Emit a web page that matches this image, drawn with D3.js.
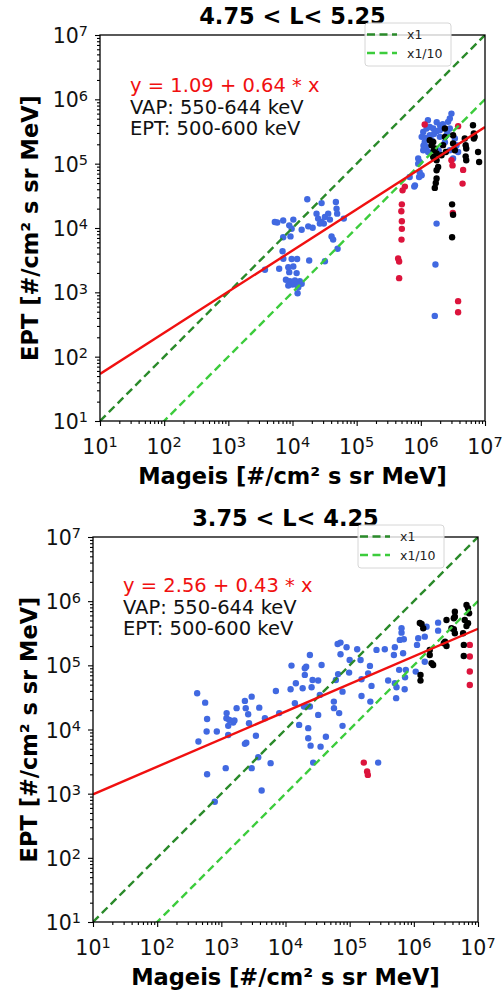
<!DOCTYPE html>
<html>
<head>
<meta charset="utf-8">
<script src="https://cdn.jsdelivr.net/npm/d3@7"></script>
<style>
  body { margin: 0; background: #fff; }
  text { font-family: "DejaVu Sans", sans-serif; }
</style>
</head>
<body>
<svg id="chart" width="504" height="993"></svg>
<script>
const titles = ["4.75 < L< 5.25", "3.75 < L< 4.25"];
const fitText = ["y = 1.09 + 0.64 * x", "y = 2.56 + 0.43 * x"];
const fitIntercept = [1.09, 2.56];
const fitSlope = [0.64, 0.43];
const infoText = ["VAP: 550-644 keV", "EPT: 500-600 keV"];
const xLabel = "Mageis [#/cm² s sr MeV]";
const yLabel = "EPT [#/cm² s sr MeV]";
const tickExponents = [1, 2, 3, 4, 5, 6, 7];
const legendLabels = ["x1", "x1/10"];
const refFactors = [1, 0.1];

// [mageis, ept] pairs, 4.75 < L < 5.25
const topBlue = [
  [1.7e4,2.8e4],[2.84e4,2.44e4],[4.74e4,2.53e4],[5.78e3,1.22e4],[7.16e3,1.31e4],[1.03e4,1.35e4],
  [8.9e3,1.1e4],[9.7e3,9.75e3],[1.39e4,9.4e3],[1.76e4,1.06e4],[2.06e4,1.01e4],[2.37e4,1.67e4],
  [2.51e4,1.4e4],[2.84e4,1.24e4],[3.2e4,1.48e4],[3.6e4,1.67e4],[3.83e4,1.35e4],[4.86e4,2.0e4],
  [4.97e4,1.67e4],[6.3e4,1.4e4],[3.08e4,1.17e4],[2.67e4,1.17e4],[7.16e3,7.2e3],[9.3e3,7.4e3],
  [4.06e4,7.4e3],[4.3e4,6.6e3],[5.04e4,4.76e3],[7.0e3,4.36e3],[7.2e3,3.33e3],[9.7e3,3.3e3],
  [1.18e4,3.3e3],[1.82e4,3.13e3],[3.2e4,3.05e3],[3.72e3,2.24e3],[6.2e3,2.32e3],[8.6e3,2.46e3],
  [1.03e4,2.52e3],[8.9e3,2.06e3],[1.16e4,1.99e3],[7.9e3,1.57e3],[9.1e3,1.49e3],[1.09e4,1.53e3],
  [1.3e4,1.49e3],[1.0e4,1.32e3],[1.16e4,1.31e3],[8.6e3,1.28e3],[1.23e4,1.2e3],[1.39e4,1.36e3],
  [1.2e4,9.7e2],[5.3e3,1.24e4],
  [3.0e6,6.0e5],[2.83e6,5.05e5],[2.66e6,4.47e5],[1.09e6,3.12e5],[1.23e6,3.52e5],[1.38e6,3.73e5],
  [1.56e6,3.52e5],[1.76e6,3.2e5],[1.98e6,3.31e5],[1.03e6,2.61e5],[1.15e6,2.18e5],[1.23e6,1.82e5],
  [1.09e6,1.62e5],[1.3e6,1.52e5],[1.38e6,2.77e5],[1.98e6,2.61e5],[2.51e6,2.77e5],[2.83e6,3.52e5],
  [3.39e6,2.46e5],[3.6e6,1.94e5],[3.81e6,1.52e5],[3.18e6,1.2e5],[9.1e5,1.2e5],[9.6e5,7.4e4],
  [1.03e6,6.6e4],[6.7e5,6.2e4],[8.1e5,4.6e4],[9.1e5,1.0e5],[9.6e5,1.06e5],[9.4e5,6.2e4],
  [7.9e5,4.4e4],[1.76e6,1.17e4],[1.69e6,2.71e3],[1.65e6,4.3e2],[1.48e6,2.31e5],[1.77e6,4.4e5],
  [2.2e6,4.1e5],[2.37e6,2.15e5],[2.83e6,1.62e5],[1.29e6,4.74e5],[1.2e6,2.5e5],[1.6e6,2.9e5],
  [2.0e6,3.9e5],[1.1e6,1.9e5],[2.6e6,3.0e5],[1.9e6,1.6e5]
];
const topRed = [
  [1.15e6,4.07e5],[3.81e6,3.83e5],[3.0e6,1.13e5],[3.12e6,9.4e4],[4.56e6,8.0e4],[4.47e6,4.9e4],
  [5.64e5,4.4e4],[5.19e5,3.85e4],[5.06e5,2.33e4],[4.97e5,1.82e4],[5.06e5,1.27e4],[5.06e5,9.7e3],
  [5.0e5,6.6e3],[4.43e5,3.36e3],[4.59e5,3.02e3],[4.59e5,1.66e3],[3.81e6,7.3e2],[3.81e6,4.9e2],
  [3.15e6,1.72e4]
];
const topBlack = [
  [6.5e6,3.96e5],[6.7e6,2.94e5],[6.7e6,2.46e5],[5.0e6,1.94e5],[5.1e6,1.72e5],[5.0e6,1.3e5],
  [5.1e6,1.13e5],[7.8e6,1.52e5],[8.1e6,1.06e5],[3.07e6,2.33e4],[3.18e6,1.61e4],[3.07e6,7.2e3],
  [1.76e6,7.9e4],[1.76e6,5.9e4],[1.71e6,5.0e4],[1.65e6,4.2e4],[1.56e6,2.18e5],[1.47e6,1.94e5],
  [1.65e6,1.72e5],[1.76e6,1.44e5],[1.56e6,1.27e5],[1.76e6,1.13e5],[1.86e6,8.9e4],[2.37e6,3.52e5],
  [2.37e6,2.61e5],[2.22e6,1.94e5],[2.45e6,1.52e5],[2.1e6,1.35e5],[3.18e6,2.77e5],[3.18e6,2.06e5],
  [3.39e6,1.62e5],[4.84e6,2.46e5],[6.9e6,2.61e5],[1.38e6,2.31e5],[1.59e6,1.62e5]
];

// [mageis, ept] pairs, 3.75 < L < 4.25
const bottomBlue = [
  [4.2e2,3.67e4],[5.6e2,2.62e4],[6.0e2,1.46e4],[5.9e2,9.3e3],[4.4e2,6.5e3],[8.5e2,9.3e3],
  [6.0e2,2.01e3],[7.9e2,7.5e2],[1.17e3,2.5e3],[1.21e3,1.8e4],[1.2e3,1.5e4],[1.33e3,1.41e4],
  [1.28e3,1.14e4],[1.53e3,1.28e4],[1.6e3,1.38e4],[1.73e3,2.15e4],[1.28e3,8.2e3],[2.33e3,2.79e4],
  [2.4e3,2.15e4],[2.97e3,3.25e4],[2.62e3,1.73e4],[2.7e3,1.25e4],[3.9e3,2.19e4],[4.78e3,1.5e4],
  [3.46e3,8.0e3],[2.33e3,5.97e3],[2.45e3,6.2e3],[2.97e3,2.5e3],[3.76e3,3.7e3],[4.25e3,1.12e3],
  [5.86e3,2.99e3],[7.08e3,3.99e4],[7.98e3,1.8e4],[1.2e4,4.25e4],[1.24e4,9.9e4],[1.4e4,2.57e4],
  [1.45e4,5.26e4],[1.63e4,1.18e4],[1.85e4,4.4e4],[2.0e4,9.0e4],[2.0e4,7.1e4],[2.1e4,9.5e4],
  [2.4e4,1.45e5],[2.64e4,5.9e4],[3.23e4,5.8e4],[3.65e4,1.01e5],[2.13e4,2.28e4],[2.4e4,2.28e4],
  [2.26e4,1.05e4],[2.26e4,7.3e3],[2.46e4,5.6e3],[3.23e4,1.69e4],[3.52e4,5.4e3],[4.26e4,7.7e3],
  [3.43e4,3.46e4],[2.7e4,3.05e3],[2.55e4,4.56e4],[1.94e4,2.28e4],[5.67e4,2.72e4],[5.7e4,2.15e4],
  [6.86e4,1.8e4],[7.74e4,1.14e4],[6.1e4,5.9e4],[6.6e4,7.3e4],[7.74e4,3.89e4],[9.8e4,7.7e4],
  [1.0e5,1.21e5],[6.5e4,2.15e5],[7.2e4,2.26e5],[8.95e4,1.91e5],[7.2e4,1.49e5],[1.31e5,1.78e5],
  [1.48e5,1.21e5],[1.53e5,6.07e4],[1.53e5,3.33e4],[2.07e5,9.8e4],[2.19e5,4.78e4],[2.1e5,2.72e4],
  [1.94e5,7.5e4],[2.62e5,1.74e5],[3.53e5,1.78e5],[3.98e5,5.8e4],[5.06e5,1.91e5],[4.89e5,1.45e5],
  [5.37e5,4.56e4],[5.3e5,3.08e4],[5.06e5,5.26e4],[6.8e5,1.54e5],[6.05e5,2.49e5],[6.43e5,3.23e5],
  [6.43e5,3.78e5],[6.98e5,2.55e5],[5.9e5,8.5e4],[7.5e5,8.5e4],[7.3e5,6.5e4],[7.2e5,4.25e4],
  [1.17e6,2.64e5],[1.12e6,2.08e5],[1.48e6,2.8e5],[1.58e6,4.0e5],[1.07e6,7.98e4],[1.48e6,1.14e5],
  [2.39e6,4.63e5],[2.39e6,3.47e5],[2.78e5,3.05e3]
];
const bottomRed = [
  [1.66e5,3.05e3],[1.87e5,2.21e3],[1.92e5,1.96e3],
  [7.45e6,2.08e5],[7.45e6,1.37e5],[7.45e6,8.0e4],[7.45e6,4.95e4]
];
const bottomBlack = [
  [1.32e6,4.42e5],[1.4e6,3.78e5],[1.24e6,4.57e5],[3.23e6,5.1e5],[4.36e6,6.86e5],[4.36e6,5.74e5],
  [4.2e6,5.42e5],[6.62e6,8.73e5],[7.26e6,6.49e5],[6.22e6,5.1e5],[6.62e6,4.11e5],[5.86e6,3.16e5],
  [4.2e6,3.65e5],[3.86e6,3.78e5],[4.36e6,3.16e5],[2.93e6,2.21e5],[3.23e6,2.0e5],[3.07e6,2.34e5],
  [1.77e6,1.74e5],[1.77e6,1.45e5],[1.89e6,1.08e5],[2.0e6,1.01e5],[1.27e6,7.08e4],[1.27e6,5.78e4],
  [6.01e6,2.08e5],[6.0e6,1.4e5],[7.0e6,4.53e5],[7.0e6,7.74e5]
];

const panels = [
  {left: 100, top: 35, width: 385, height: 386, yLabelX: 38, title: titles[0], fit: 0, textTop: 57,
   blue: topBlue, red: topRed, black: topBlack},
  {left: 93, top: 537, width: 385, height: 385, yLabelX: 37, title: titles[1], fit: 1, textTop: 55,
   blue: bottomBlue, red: bottomRed, black: bottomBlack}
];

const svg = d3.select("#chart");
const majorTicks = tickExponents.map(e => Math.pow(10, e));
const minorTicks = [];
tickExponents.slice(0, -1).forEach(e => {
  for (let m = 2; m <= 9; m++) minorTicks.push(m * Math.pow(10, e));
});

function powLabel(sel, e) {
  sel.append("tspan").text("10");
  sel.append("tspan").attr("dy", "-0.45em").attr("font-size", "14.5px").text(e);
}

const refColors = ["#2a8a2a", "#3ccc3c"];

panels.forEach((p, i) => {
  const g = svg.append("g").attr("transform", "translate(" + p.left + "," + p.top + ")");
  const x = d3.scaleLog().domain([10, 1e7]).range([0, p.width]);
  const y = d3.scaleLog().domain([10, 1e7]).range([p.height, 0]);

  g.append("clipPath").attr("id", "clip" + i)
    .append("rect").attr("width", p.width).attr("height", p.height);

  const plot = g.append("g").attr("clip-path", "url(#clip" + i + ")");

  // scatter
  [["blue", "#4169e1"], ["red", "#dc143c"], ["black", "#000"]].forEach(([key, color]) => {
    plot.selectAll(".pt-" + key)
      .data(p[key])
      .enter().append("circle")
        .attr("cx", d => x(d[0]))
        .attr("cy", d => y(d[1]))
        .attr("r", 3.2)
        .attr("fill", color);
  });

  // reference lines y = x and y = x/10
  refFactors.forEach((f, k) => {
    plot.append("path")
      .datum([10, 1e7].map(v => [v, v * f]))
      .attr("d", d3.line().x(d => x(d[0])).y(d => y(d[1])))
      .attr("fill", "none")
      .attr("stroke", refColors[k])
      .attr("stroke-width", 2.4)
      .attr("stroke-dasharray", "8,4.5");
  });

  // fit line (log-log)
  const a = fitIntercept[p.fit], b = fitSlope[p.fit];
  plot.append("path")
    .datum([10, 1e7].map(v => [v, Math.pow(10, a + b * Math.log10(v))]))
    .attr("d", d3.line().x(d => x(d[0])).y(d => y(d[1])))
    .attr("fill", "none")
    .attr("stroke", "#f01010")
    .attr("stroke-width", 2.4);

  // axes
  const xAxis = g.append("g").attr("transform", "translate(0," + p.height + ")");
  xAxis.append("g").call(d3.axisBottom(x).tickValues(minorTicks).tickSize(3).tickFormat(""));
  xAxis.append("g").call(d3.axisBottom(x).tickValues(majorTicks).tickSize(5).tickFormat(""));
  const yAxis = g.append("g");
  yAxis.append("g").call(d3.axisLeft(y).tickValues(minorTicks).tickSize(3).tickFormat(""));
  yAxis.append("g").call(d3.axisLeft(y).tickValues(majorTicks).tickSize(5).tickFormat(""));
  g.selectAll(".domain").remove();
  g.selectAll(".tick line").attr("stroke", "#000").attr("stroke-width", 1.1);

  tickExponents.forEach(e => {
    g.append("text")
      .attr("x", x(Math.pow(10, e)))
      .attr("y", p.height + 33)
      .attr("text-anchor", "middle")
      .attr("font-size", "20.5px")
      .attr("fill", "#111")
      .call(powLabel, e);
    g.append("text")
      .attr("x", -12)
      .attr("y", y(Math.pow(10, e)) + 8)
      .attr("text-anchor", "end")
      .attr("font-size", "20.5px")
      .attr("fill", "#111")
      .call(powLabel, e);
  });

  g.append("rect")
    .attr("width", p.width).attr("height", p.height)
    .attr("fill", "none").attr("stroke", "#000").attr("stroke-width", 1.3);

  // title and labels
  g.append("text")
    .attr("x", p.width / 2).attr("y", -11)
    .attr("text-anchor", "middle")
    .attr("font-size", "22.5px").attr("font-weight", "bold")
    .text(p.title);
  g.append("text")
    .attr("x", p.width / 2).attr("y", p.height + 63)
    .attr("text-anchor", "middle")
    .attr("font-size", "22.5px").attr("font-weight", "bold")
    .text(xLabel);
  svg.append("text")
    .attr("transform", "translate(" + p.yLabelX + "," + (p.top + p.height / 2) + ") rotate(-90)")
    .attr("text-anchor", "middle")
    .attr("font-size", "22.5px").attr("font-weight", "bold")
    .text(yLabel);

  // annotation
  g.append("text")
    .attr("x", 30).attr("y", p.textTop)
    .attr("font-size", "19.5px").attr("fill", "#f01010")
    .text(fitText[p.fit]);
  infoText.forEach((t, k) => {
    g.append("text")
      .attr("x", 30).attr("y", p.textTop + 21.5 * (k + 1))
      .attr("font-size", "19.5px").attr("fill", "#111")
      .text(t);
  });

  // legend
  const lg = g.append("g").attr("transform", "translate(" + (p.width - 120) + ",-12)");
  lg.append("rect")
    .attr("width", 86).attr("height", 43).attr("rx", 3)
    .attr("fill", "#fff").attr("fill-opacity", 0.8)
    .attr("stroke", "#d6d6d6");
  legendLabels.forEach((lab, k) => {
    const ly = 11.5 + k * 18.5;
    lg.append("line")
      .attr("x1", 2).attr("x2", 32).attr("y1", ly).attr("y2", ly)
      .attr("stroke", refColors[k]).attr("stroke-width", 2.4)
      .attr("stroke-dasharray", "8,4.5");
    lg.append("text")
      .attr("x", 42).attr("y", ly + 4.5)
      .attr("font-size", "12.5px").attr("fill", "#222")
      .text(lab);
  });
});
</script>
</body>
</html>
